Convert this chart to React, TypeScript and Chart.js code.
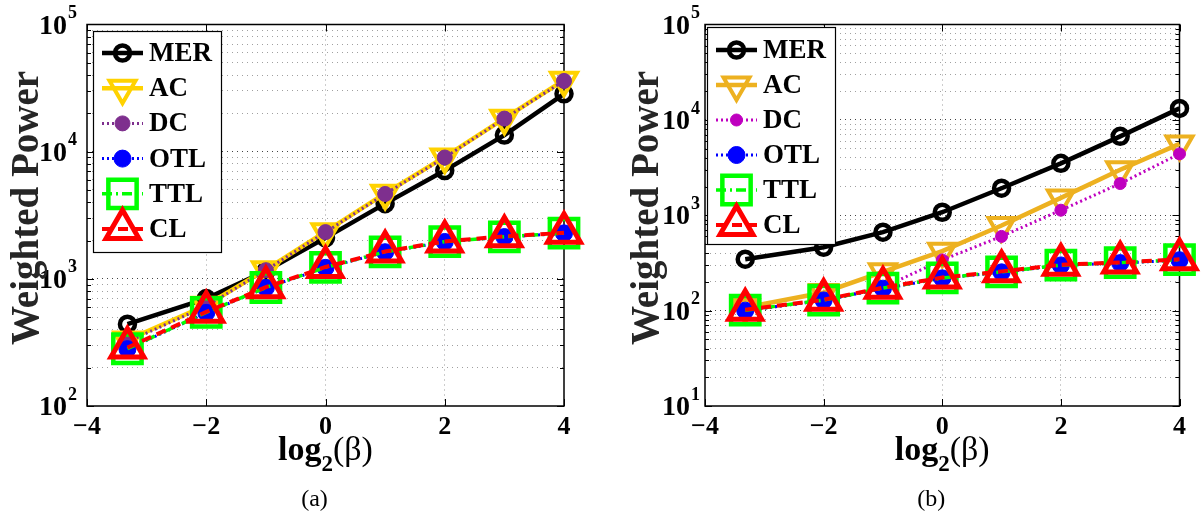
import React, { useEffect, useRef } from 'react';
import { Chart, registerables } from 'chart.js';

Chart.register(...registerables);

// ---------- data ----------
const X_VALUES = [-3.3219, -2, -1, 0, 1, 2, 3, 4];
const X_TICKS = [-4, -2, 0, 2, 4];
const X_TICK_LABELS = ['\u22124', '\u22122', '0', '2', '4'];
const SERIES = ['MER', 'AC', 'DC', 'OTL', 'TTL', 'CL'];

const A_MER = [440, 700, 1150, 2100, 3900, 7100, 13500, 28500];
const A_AC = [330, 620, 1180, 2350, 4700, 9100, 18300, 36500];
const A_DC = [320, 610, 1170, 2330, 4650, 9000, 18200, 36000];
const A_OTL = [280, 540, 850, 1220, 1620, 1950, 2130, 2280];
const A_TTL = [282, 545, 855, 1230, 1630, 1960, 2140, 2290];
const A_CL = [288, 550, 860, 1240, 1640, 1970, 2160, 2300];
const A_Y_EXPONENTS = [2, 3, 4, 5];

const B_MER = [346, 462, 664, 1075, 1920, 3500, 6720, 13200];
const B_AC = [108, 155, 255, 420, 780, 1520, 3000, 5600];
const B_DC = [100, 128, 175, 340, 600, 1130, 2150, 4400];
const B_OTL = [100, 128, 170, 218, 252, 298, 315, 338];
const B_TTL = [101, 129, 172, 220, 255, 300, 318, 342];
const B_CL = [102, 130, 174, 222, 258, 303, 320, 345];
const B_Y_EXPONENTS = [1, 2, 3, 4, 5];

const SERIF = '"Liberation Serif", "Times New Roman", serif';

function drawMarker(ctx: CanvasRenderingContext2D, ds: any, x: number, y: number) {
  const r = ds.pointRadius;
  ctx.save();
  ctx.setLineDash([]);
  ctx.beginPath();
  if (ds.pointStyle === 'circle') {
    ctx.arc(x, y, r, 0, Math.PI * 2);
  } else if (ds.pointStyle === 'triangle') {
    let rad = ((ds.pointRotation || 0) * Math.PI) / 180;
    ctx.moveTo(x + Math.sin(rad) * r, y - Math.cos(rad) * r);
    rad += (2 * Math.PI) / 3;
    ctx.lineTo(x + Math.sin(rad) * r, y - Math.cos(rad) * r);
    rad += (2 * Math.PI) / 3;
    ctx.lineTo(x + Math.sin(rad) * r, y - Math.cos(rad) * r);
    ctx.closePath();
  } else {
    const s = r * Math.SQRT1_2;
    ctx.rect(x - s, y - s, 2 * s, 2 * s);
  }
  ctx.fillStyle = ds.pointBackgroundColor;
  ctx.fill();
  ctx.lineWidth = ds.pointBorderWidth;
  ctx.strokeStyle = ds.pointBorderColor;
  ctx.stroke();
  ctx.restore();
}

const isDecade = (v: number) => Math.abs(Math.log10(v) - Math.round(Math.log10(v))) < 1e-9;

const framePlugin = {
  id: 'frame',
  beforeDatasetsDraw(chart: any, _args: any, opts: any) {
    const { ctx, chartArea: ca, scales } = chart;
    ctx.save();
    ctx.strokeStyle = '#000';
    ctx.lineWidth = 1.5;
    ctx.setLineDash([]);
    ctx.strokeRect(ca.left, ca.top, ca.right - ca.left, ca.bottom - ca.top);
    ctx.lineWidth = 1;
    for (let e = opts.yMinExp; e < opts.yMaxExp; e++) {
      for (let m = 1; m <= 9; m++) {
        const v = m * Math.pow(10, e);
        const y = Math.round(scales.y.getPixelForValue(v)) + 0.5;
        const len = m === 1 ? 7 : 4;
        ctx.beginPath();
        ctx.moveTo(ca.left, y);
        ctx.lineTo(ca.left + len, y);
        ctx.moveTo(ca.right, y);
        ctx.lineTo(ca.right - len, y);
        ctx.stroke();
      }
    }
    for (const t of X_TICKS) {
      const x = Math.round(scales.x.getPixelForValue(t)) + 0.5;
      ctx.beginPath();
      ctx.moveTo(x, ca.bottom);
      ctx.lineTo(x, ca.bottom - 7);
      ctx.moveTo(x, ca.top);
      ctx.lineTo(x, ca.top + 7);
      ctx.stroke();
    }
    ctx.restore();
  },
  afterDatasetsDraw(chart: any, _args: any, opts: any) {
    const { ctx } = chart;
    const b = opts.legendBox;
    ctx.save();
    ctx.fillStyle = '#fff';
    ctx.fillRect(b.x, b.y, b.w, b.h);
    ctx.strokeStyle = '#000';
    ctx.lineWidth = 1.2;
    ctx.strokeRect(b.x + 0.5, b.y + 0.5, b.w, b.h);
    chart.data.datasets.forEach((ds: any, i: number) => {
      const cy = b.y + b.first + i * b.step;
      ctx.save();
      ctx.strokeStyle = ds.borderColor;
      ctx.lineWidth = ds.borderWidth;
      ctx.setLineDash(ds.borderDash || []);
      ctx.beginPath();
      ctx.moveTo(b.x + 9, cy);
      ctx.lineTo(b.x + 50, cy);
      ctx.stroke();
      ctx.restore();
      drawMarker(ctx, ds, b.x + 29.5, cy);
      ctx.fillStyle = '#000';
      ctx.font = `bold 27px ${SERIF}`;
      ctx.textAlign = 'left';
      ctx.textBaseline = 'middle';
      ctx.fillText(ds.label, b.x + 56, cy + 1);
    });
    ctx.restore();
  },
  afterDraw(chart: any, _args: any, opts: any) {
    const { ctx, chartArea: ca, scales } = chart;
    ctx.save();
    ctx.fillStyle = '#000';
    for (const e of opts.exps) {
      const y = scales.y.getPixelForValue(Math.pow(10, e));
      ctx.font = `bold 28px ${SERIF}`;
      const w1 = ctx.measureText('10').width;
      ctx.font = `bold 18px ${SERIF}`;
      const w2 = ctx.measureText(String(e)).width;
      const right = ca.left - opts.labelGap;
      const x0 = right - w1 - w2 - 1;
      ctx.textAlign = 'left';
      ctx.textBaseline = 'middle';
      ctx.font = `bold 28px ${SERIF}`;
      ctx.fillText('10', x0, y + 2);
      ctx.font = `bold 18px ${SERIF}`;
      ctx.fillText(String(e), x0 + w1 + 1, y - 11);
    }
    ctx.font = `bold 26px ${SERIF}`;
    ctx.textAlign = 'center';
    ctx.textBaseline = 'middle';
    X_TICKS.forEach((t, i) => {
      ctx.fillText(X_TICK_LABELS[i], scales.x.getPixelForValue(t), ca.bottom + 21);
    });
    const cx = (ca.left + ca.right) / 2;
    ctx.textBaseline = 'alphabetic';
    ctx.textAlign = 'left';
    ctx.font = `bold 34px ${SERIF}`;
    const wl = ctx.measureText('log').width;
    ctx.font = `bold 23px ${SERIF}`;
    const ws = ctx.measureText('2').width;
    ctx.font = `34px ${SERIF}`;
    const wb = ctx.measureText('(\u03b2)').width;
    let xs = cx - (wl + ws + wb) / 2;
    ctx.font = `bold 34px ${SERIF}`;
    ctx.fillText('log', xs, 460);
    xs += wl;
    ctx.font = `bold 23px ${SERIF}`;
    ctx.fillText('2', xs, 471);
    xs += ws;
    ctx.font = `34px ${SERIF}`;
    ctx.fillText('(\u03b2)', xs, 460);
    ctx.save();
    ctx.translate(opts.titleX, 208);
    ctx.rotate(-Math.PI / 2);
    ctx.font = `bold 39px ${SERIF}`;
    ctx.fillStyle = '#262626';
    ctx.textAlign = 'center';
    ctx.textBaseline = 'middle';
    ctx.fillText('Weighted Power', 0, 0);
    ctx.restore();
    ctx.font = `24px ${SERIF}`;
    ctx.textAlign = 'center';
    ctx.textBaseline = 'middle';
    ctx.fillText(opts.caption, cx - 11, 500);
    ctx.restore();
  },
};

function makeDatasets(values: number[][], acColor: string, dcColor: string, acR: number, dcR: number) {
  const styles = [
    { color: '#000000', width: 4.5, dash: [], ps: 'circle', rot: 0, r: 7.5, pbw: 4.5, fill: false },
    { color: acColor, width: 4.5, dash: [], ps: 'triangle', rot: 180, r: acR, pbw: 4, fill: false },
    { color: dcColor, width: 3, dash: [2, 3], ps: 'circle', rot: 0, r: dcR, pbw: 1, fill: true },
    { color: '#0000FF', width: 3, dash: [2, 3], ps: 'circle', rot: 0, r: 8.5, pbw: 1, fill: true },
    { color: '#00FF00', width: 3.5, dash: [10, 4, 2, 4], ps: 'rect', rot: 0, r: 20, pbw: 4.5, fill: false },
    { color: '#FF0000', width: 4, dash: [10, 6], ps: 'triangle', rot: 0, r: 19, pbw: 5, fill: false },
  ];
  return values.map((vals, i) => {
    const s = styles[i];
    return {
      label: SERIES[i],
      data: X_VALUES.map((x, j) => ({ x, y: vals[j] })),
      borderColor: s.color,
      backgroundColor: s.color,
      borderWidth: s.width,
      borderDash: s.dash,
      pointStyle: s.ps,
      pointRotation: s.rot,
      pointRadius: s.r,
      pointHoverRadius: s.r,
      pointBorderWidth: s.pbw,
      pointBorderColor: s.color,
      pointBackgroundColor: s.fill ? s.color : 'rgba(0,0,0,0)',
      tension: 0,
      fill: false,
      clip: false,
      order: 5 - i,
    };
  });
}

function makeConfig(p: {
  values: number[][];
  acColor: string;
  dcColor: string;
  acR: number;
  dcR: number;
  exps: number[];
  padding: { left: number; right: number; top: number; bottom: number };
  legendBox: any;
  labelGap: number;
  titleX: number;
  caption: string;
}): any {
  const minE = p.exps[0];
  const maxE = p.exps[p.exps.length - 1];
  return {
    type: 'line',
    data: { datasets: makeDatasets(p.values, p.acColor, p.dcColor, p.acR, p.dcR) },
    plugins: [framePlugin],
    options: {
      responsive: false,
      maintainAspectRatio: false,
      animation: false,
      events: [],
      layout: { padding: p.padding },
      plugins: {
        legend: { display: false },
        tooltip: { enabled: false },
        frame: {
          yMinExp: minE,
          yMaxExp: maxE,
          exps: p.exps,
          legendBox: p.legendBox,
          labelGap: p.labelGap,
          titleX: p.titleX,
          caption: p.caption,
        },
      },
      scales: {
        x: {
          type: 'linear',
          min: -4,
          max: 4,
          afterBuildTicks: (s: any) => {
            s.ticks = [-2, 0, 2].map((v) => ({ value: v }));
          },
          afterFit: (s: any) => {
            s.height = 0;
          },
          ticks: { display: false },
          grid: { color: '#9a9a9a', lineWidth: 1, drawTicks: false },
          border: { display: false, dash: [1, 4] },
        },
        y: {
          type: 'logarithmic',
          min: Math.pow(10, minE),
          max: Math.pow(10, maxE),
          afterBuildTicks: (s: any) => {
            const t: any[] = [];
            for (let e = minE; e < maxE; e++) {
              for (let m = 1; m <= 9; m++) {
                if (m === 1 && e === minE) continue;
                t.push({ value: m * Math.pow(10, e) });
              }
            }
            s.ticks = t;
          },
          afterFit: (s: any) => {
            s.width = 0;
          },
          ticks: { display: false },
          grid: {
            color: (c: any) => (c.tick && isDecade(c.tick.value) ? '#444444' : '#a0a0a0'),
            lineWidth: 1,
            drawTicks: false,
          },
          border: { display: false, dash: [1, 4] },
        },
      },
    },
  };
}

export default function App() {
  const refA = useRef<HTMLCanvasElement>(null);
  const refB = useRef<HTMLCanvasElement>(null);
  useEffect(() => {
    document.body.style.margin = '0';
    const a = new Chart(
      refA.current as HTMLCanvasElement,
      makeConfig({
        values: [A_MER, A_AC, A_DC, A_OTL, A_TTL, A_CL],
        acColor: '#FFD200',
        dcColor: '#7E2F8E',
        acR: 15,
        dcR: 7.5,
        exps: A_Y_EXPONENTS,
        padding: { left: 87, right: 38, top: 24, bottom: 119 },
        legendBox: { x: 93, y: 31, w: 128, h: 221, first: 22, step: 35.2 },
        labelGap: 10,
        titleX: 28,
        caption: '(a)',
      })
    );
    const b = new Chart(
      refB.current as HTMLCanvasElement,
      makeConfig({
        values: [B_MER, B_AC, B_DC, B_OTL, B_TTL, B_CL],
        acColor: '#EDB120',
        dcColor: '#BF00BF',
        acR: 15,
        dcR: 6,
        exps: B_Y_EXPONENTS,
        padding: { left: 103, right: 22, top: 24, bottom: 119 },
        legendBox: { x: 105, y: 27, w: 128, h: 217, first: 23, step: 35 },
        labelGap: 5,
        titleX: 46,
        caption: '(b)',
      })
    );
    return () => {
      a.destroy();
      b.destroy();
    };
  }, []);
  return (
    <div style={{ position: 'relative', width: 1204, height: 525, background: '#fff' }}>
      <canvas ref={refA} width={602} height={525} style={{ position: 'absolute', left: 0, top: 0 }} />
      <canvas ref={refB} width={602} height={525} style={{ position: 'absolute', left: 602, top: 0 }} />
    </div>
  );
}
